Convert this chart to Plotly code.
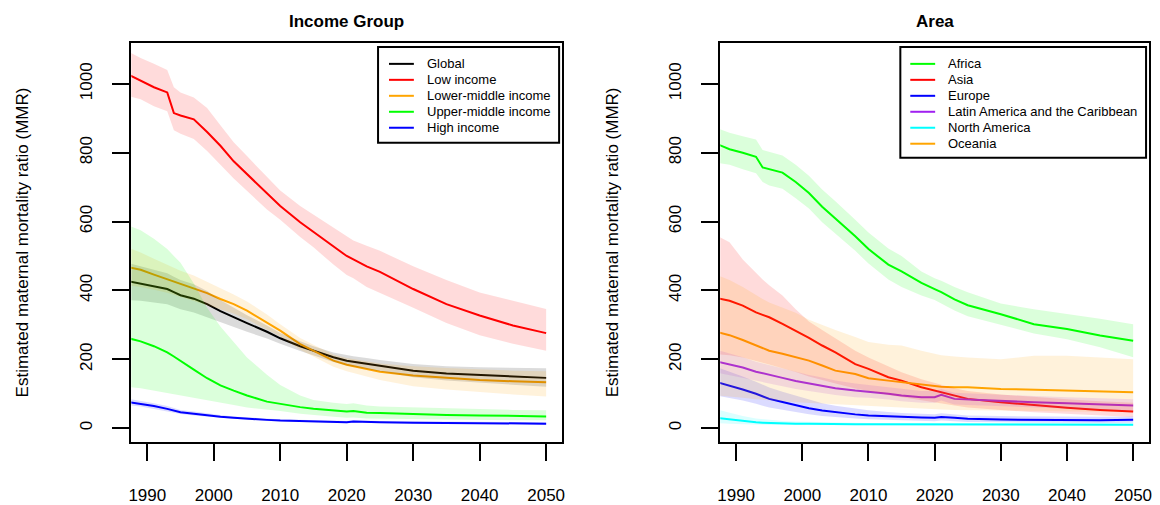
import plotly.graph_objects as go

# ---------------- data ----------------
years = [1987, 1989, 1991, 1993, 1994, 1995, 1997, 1999, 2001, 2003, 2005, 2008, 2010,
         2013, 2015, 2018, 2020, 2021, 2023, 2025, 2030, 2035, 2040, 2045, 2050]

# Income groups: estimate, upper bound, lower bound
income_names = ["Global", "Low income", "Lower-middle income", "Upper-middle income", "High income"]
income_colors = ["#000000", "#FF0000", "#FFA500", "#00FF00", "#0000FF"]

global_mmr = [427, 420, 412, 404, 395, 386, 376, 360, 340, 322, 305, 280, 261, 238, 225, 206, 196, 193, 188, 182, 167, 159, 155, 150, 146]
global_hi = [480, 470, 460, 450, 440, 430, 418, 398, 372, 350, 328, 298, 276, 252, 238, 220, 212, 209, 204, 198, 186, 180, 177, 175, 174]
global_lo = [372, 370, 365, 360, 352, 345, 336, 322, 308, 294, 280, 260, 245, 224, 211, 192, 182, 179, 172, 165, 148, 138, 132, 126, 120]

low_mmr = [1028, 1010, 990, 975, 915, 908, 897, 860, 820, 775, 738, 680, 645, 598, 570, 528, 500, 490, 470, 454, 404, 360, 327, 298, 276]
low_hi = [1095, 1075, 1058, 1040, 990, 975, 960, 930, 880, 830, 790, 730, 690, 645, 620, 580, 555, 545, 530, 515, 470, 430, 394, 370, 346]
low_lo = [965, 955, 935, 920, 865, 855, 840, 805, 765, 725, 690, 635, 605, 555, 525, 475, 445, 435, 410, 392, 350, 305, 270, 245, 225]

lmid_mmr = [468, 460, 446, 433, 425, 418, 406, 392, 375, 360, 341, 307, 283, 244, 225, 196, 184, 180, 172, 164, 153, 146, 140, 136, 133]
lmid_hi = [525, 510, 492, 475, 465, 457, 443, 425, 405, 388, 368, 330, 302, 262, 242, 214, 204, 200, 194, 188, 180, 175, 170, 167, 165]
lmid_lo = [415, 410, 402, 393, 386, 380, 370, 358, 345, 333, 316, 286, 266, 228, 208, 178, 165, 160, 150, 140, 122, 112, 104, 98, 92]

umid_mmr = [262, 252, 238, 220, 208, 196, 170, 145, 124, 109, 95, 77, 70, 61, 56, 50, 48, 50, 45, 44, 40, 38, 37, 35, 34]
umid_hi = [590, 575, 550, 520, 500, 480, 420, 350, 295, 250, 205, 155, 125, 95, 82, 74, 70, 72, 66, 63, 60, 57, 55, 53, 52]
umid_lo = [120, 116, 110, 104, 100, 96, 90, 82, 74, 67, 60, 54, 50, 42, 38, 33, 30, 31, 28, 27, 25, 24, 24, 23, 23]

high_mmr = [76, 71, 64, 56, 51, 46, 42, 37, 33, 30, 27, 24, 22, 20, 19, 18, 17, 19, 17, 17, 16, 15, 15, 14, 13]
high_hi = [86, 80, 72, 64, 58, 53, 48, 42, 38, 34, 31, 28, 26, 24, 23, 22, 21, 23, 21, 21, 20, 19, 19, 18, 17]
high_lo = [67, 63, 57, 49, 45, 41, 37, 33, 29, 27, 24, 21, 19, 17, 16, 15, 14, 16, 14, 14, 13, 12, 12, 11, 10]

# Areas: estimate, upper bound, lower bound
area_names = ["Africa", "Asia", "Europe", "Latin America and the Caribbean", "North America", "Oceania"]
area_colors = ["#00FF00", "#FF0000", "#0000FF", "#A020F0", "#00FFFF", "#FFA500"]

africa_mmr = [826, 810, 800, 788, 757, 752, 742, 715, 683, 643, 609, 557, 520, 475, 455, 422, 404, 395, 374, 357, 331, 302, 288, 269, 254]
africa_hi = [872, 858, 848, 838, 808, 802, 792, 765, 733, 693, 659, 605, 568, 522, 500, 455, 435, 428, 410, 395, 362, 345, 332, 318, 302]
africa_lo = [771, 765, 752, 740, 715, 705, 695, 668, 638, 598, 565, 515, 478, 432, 410, 385, 372, 362, 342, 325, 300, 275, 258, 235, 206]

asia_mmr = [378, 370, 356, 336, 329, 322, 303, 283, 262, 240, 220, 186, 172, 148, 138, 119, 109, 104, 95, 85, 75, 66, 59, 53, 48]
asia_hi = [560, 540, 490, 450, 432, 415, 385, 345, 310, 285, 262, 225, 205, 178, 162, 142, 130, 126, 116, 108, 98, 90, 84, 78, 74]
asia_lo = [215, 212, 205, 195, 190, 185, 175, 163, 150, 140, 130, 115, 108, 96, 89, 80, 76, 72, 66, 60, 53, 46, 40, 36, 32]

europe_mmr = [134, 124, 112, 100, 92, 85, 76, 66, 58, 51, 46, 40, 37, 34, 32, 31, 30, 32, 30, 27, 25, 24, 23, 23, 24]
europe_hi = [178, 165, 150, 135, 126, 118, 106, 94, 82, 72, 65, 56, 52, 47, 44, 42, 40, 43, 40, 37, 35, 34, 33, 33, 34]
europe_lo = [95, 88, 80, 71, 65, 60, 53, 46, 40, 35, 32, 28, 26, 24, 22, 21, 20, 22, 20, 18, 17, 16, 15, 15, 16]

latam_mmr = [194, 186, 176, 164, 160, 155, 146, 137, 130, 124, 116, 109, 106, 100, 95, 90, 90, 97, 85, 83, 78, 75, 72, 69, 66]
latam_hi = [228, 218, 206, 193, 188, 182, 172, 162, 154, 147, 138, 130, 126, 119, 114, 108, 108, 114, 103, 101, 96, 93, 90, 87, 84]
latam_lo = [162, 156, 148, 138, 134, 130, 122, 114, 108, 103, 96, 90, 88, 83, 78, 74, 74, 80, 69, 67, 62, 59, 56, 53, 50]

namer_mmr = [30, 25, 20, 17, 16, 15, 14, 13, 13, 12, 12, 11, 11, 11, 11, 11, 11, 11, 11, 11, 10, 10, 10, 10, 10]
namer_hi = [55, 45, 35, 28, 26, 24, 21, 19, 18, 17, 16, 15, 15, 15, 15, 14, 14, 14, 14, 14, 14, 14, 14, 14, 14]
namer_lo = [15, 13, 11, 10, 10, 9, 9, 9, 8, 8, 8, 8, 8, 8, 8, 8, 8, 8, 8, 8, 7, 7, 7, 7, 7]

oceania_mmr = [280, 270, 256, 240, 232, 225, 216, 206, 196, 182, 167, 157, 145, 138, 133, 126, 122, 120, 119, 119, 114, 111, 109, 106, 104]
oceania_hi = [445, 430, 410, 385, 375, 365, 350, 335, 315, 300, 285, 265, 250, 242, 240, 225, 215, 212, 208, 205, 200, 210, 210, 205, 200]
oceania_lo = [95, 92, 88, 84, 82, 80, 78, 75, 72, 70, 68, 66, 64, 60, 58, 56, 55, 54, 53, 52, 51, 49, 48, 47, 46]

income_series = [
    (global_mmr, global_hi, global_lo),
    (low_mmr, low_hi, low_lo),
    (lmid_mmr, lmid_hi, lmid_lo),
    (umid_mmr, umid_hi, umid_lo),
    (high_mmr, high_hi, high_lo),
]
area_series = [
    (africa_mmr, africa_hi, africa_lo),
    (asia_mmr, asia_hi, asia_lo),
    (europe_mmr, europe_hi, europe_lo),
    (latam_mmr, latam_hi, latam_lo),
    (namer_mmr, namer_hi, namer_lo),
    (oceania_mmr, oceania_hi, oceania_lo),
]

x_ticks = [1990, 2000, 2010, 2020, 2030, 2040, 2050]
y_ticks = [0, 200, 400, 600, 800, 1000]

# ---------------- figure ----------------
W, H = 1160, 505
FONT = "Liberation Sans, Arial, Helvetica, sans-serif"
BAND_ALPHA = 0.14


def rgba(hex_color, a):
    h = hex_color.lstrip("#")
    r, g, b = int(h[0:2], 16), int(h[2:4], 16), int(h[4:6], 16)
    return f"rgba({r},{g},{b},{a})"


fig = go.Figure()


def add_panel(names, colors, series, xa, ya):
    # estimate lines first, uncertainty ribbons laid over them
    for name, col, (mid, hi, lo) in zip(names, colors, series):
        fig.add_trace(go.Scatter(
            x=years, y=mid, mode="lines", name=name,
            line=dict(color=col, width=2), xaxis=xa, yaxis=ya,
            showlegend=False, hoverinfo="skip"))
    for col, (mid, hi, lo) in zip(colors, series):
        fig.add_trace(go.Scatter(
            x=years + years[::-1], y=hi + lo[::-1], mode="lines",
            fill="toself", fillcolor=rgba(col, BAND_ALPHA),
            line=dict(width=0, color=rgba(col, 0)), showlegend=False,
            xaxis=xa, yaxis=ya, hoverinfo="skip"))


add_panel(income_names, income_colors, income_series, "x", "y")
add_panel(area_names, area_colors, area_series, "x2", "y2")

# pixel geometry of the two plot boxes
left_box = (129, 562)
right_box = (721, 1152)
top_px, bottom_px = 43, 443


def px_x(p):
    return p / W


def px_y(p):
    return 1 - p / H


x_common = dict(
    range=[1987.6, 2052.4], tickmode="array", tickvals=x_ticks,
    ticks="outside", ticklen=17, tickwidth=1.7, tickcolor="black",
    showline=True, linewidth=1.7, linecolor="black", mirror=True,
    showgrid=False, zeroline=False,
    tickfont=dict(family=FONT, size=17, color="black"),
    ticklabelstandoff=20,
)
y_common = dict(
    range=[-40.6, 1118.8], tickmode="array", tickvals=y_ticks,
    ticks="outside", ticklen=17, tickwidth=1.7, tickcolor="black",
    showline=True, linewidth=1.7, linecolor="black", mirror=True,
    showgrid=False, zeroline=False, tickangle=-90,
    tickfont=dict(family=FONT, size=17, color="black"),
    ticklabelstandoff=14,
)

fig.update_layout(
    width=W, height=H,
    margin=dict(l=0, r=0, t=0, b=0, pad=0),
    paper_bgcolor="white", plot_bgcolor="white",
    font=dict(family=FONT, color="black"),
    xaxis=dict(domain=[px_x(left_box[0]), px_x(left_box[1])], anchor="y", **x_common),
    yaxis=dict(domain=[px_y(bottom_px), px_y(top_px)], anchor="x", **y_common),
    xaxis2=dict(domain=[px_x(right_box[0]), px_x(right_box[1])], anchor="y2", **x_common),
    yaxis2=dict(domain=[px_y(bottom_px), px_y(top_px)], anchor="x2", **y_common),
    showlegend=False,
)


# legend boxes: framed key with a short line sample per series
def add_key(names, colors, box, first_row, row_step, sample, text_x):
    x0, y0, x1, y1 = box
    fig.add_shape(type="rect", xref="paper", yref="paper",
                  x0=px_x(x0), x1=px_x(x1), y0=px_y(y1), y1=px_y(y0),
                  line=dict(color="black", width=2), fillcolor="white", layer="above")
    for i, (name, col) in enumerate(zip(names, colors)):
        ry = first_row + i * row_step
        fig.add_shape(type="line", xref="paper", yref="paper",
                      x0=px_x(sample[0]), x1=px_x(sample[1]), y0=px_y(ry), y1=px_y(ry),
                      line=dict(color=col, width=2), layer="above")
        fig.add_annotation(text=name, x=px_x(text_x), y=px_y(ry), xref="paper", yref="paper",
                           xanchor="left", yanchor="middle", showarrow=False,
                           font=dict(family=FONT, size=13, color="black"))


add_key(income_names, income_colors, (377, 47, 559, 143), 64, 16, (388, 413), 424)
add_key(area_names, area_colors, (902, 47, 1149, 158), 64, 16, (912, 937), 948)

# panel titles and y-axis titles
titles = [("Income Group", (left_box[0] + left_box[1]) / 2),
          ("Area", (right_box[0] + right_box[1]) / 2)]
for text, cx in titles:
    fig.add_annotation(
        text=f"<b>{text}</b>", x=px_x(cx), y=px_y(22), xref="paper", yref="paper",
        xanchor="center", yanchor="middle", showarrow=False,
        font=dict(family=FONT, size=17, color="black"))

ytitle = "Estimated maternal mortality ratio (MMR)"
for cx in (20, 613):
    fig.add_annotation(
        text=ytitle, x=px_x(cx), y=px_y((top_px + bottom_px) / 2),
        xref="paper", yref="paper", xanchor="center", yanchor="middle",
        textangle=-90, showarrow=False,
        font=dict(family=FONT, size=17, color="black"))

fig.write_html("out.html")
